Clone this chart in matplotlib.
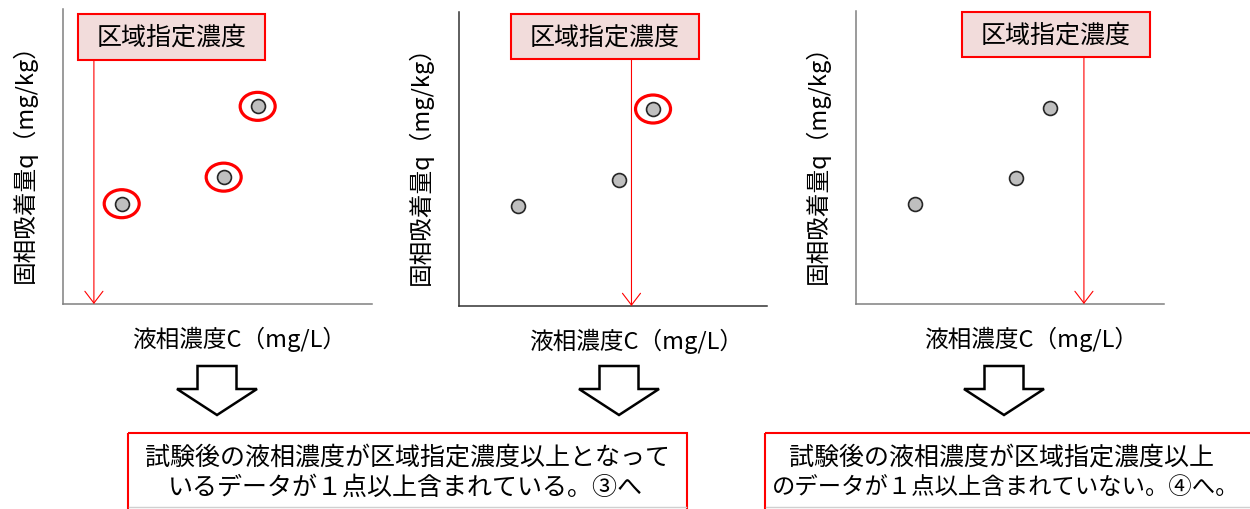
import matplotlib.pyplot as plt
import numpy as np
from matplotlib.patches import Ellipse, Rectangle, Polygon

plt.rcParams['font.family'] = ['Noto Sans CJK JP', 'DejaVu Sans']

# data (same three points in each panel, threshold differs)
conc = np.array([1.9, 5.2, 6.3])
q = np.array([3.4, 4.3, 6.7])
thresholds = [1.0, 5.6, 7.4]

ylabel = "固相吸着量q（mg/kg）"
xlabel = "液相濃度C（mg/L）"
box_label = "区域指定濃度"
result_texts = [
    ["試験後の液相濃度が区域指定濃度以上となって", "いるデータが１点以上含まれている。③へ"],
    ["試験後の液相濃度が区域指定濃度以上", "のデータが１点以上含まれていない。④へ。"],
]

W, H = 1250, 510
fig = plt.figure(figsize=(W / 100, H / 100), dpi=100)

# panel placement in pixels: left, right, top, bottom
panels = [(63, 372, 10, 305), (459, 767, 13, 307), (856, 1164, 12, 305)]
spine_cols = ['#808080', '#333333', '#808080']
boxes = [(78, 265, 15, 61), (511, 699, 15, 60), (962, 1150, 13, 58)]
xlab_x = [0.57, 0.575, 0.568]

for i, (l, r, t, b) in enumerate(panels):
    ax = fig.add_axes([l / W, 1 - b / H, (r - l) / W, (b - t) / H])
    ax.set_facecolor('none')
    ax.set_xlim(0, 10)
    ax.set_ylim(0, 10)
    ax.set_xticks([])
    ax.set_yticks([])
    for s in ['top', 'right']:
        ax.spines[s].set_visible(False)
    for s in ['left', 'bottom']:
        ax.spines[s].set_color(spine_cols[i])
        ax.spines[s].set_linewidth(1.1)

    ax.set_ylabel(ylabel, fontsize=17, labelpad=19)
    ax.set_xlabel(xlabel, fontsize=17)
    ax.xaxis.set_label_coords(xlab_x[i], -0.075)

    thr = thresholds[i]
    # red threshold arrow from the box bottom to the axis
    box_bottom = (b - boxes[i][3]) / (b - t) * 10
    ax.annotate("", xy=(thr, 0), xytext=(thr, box_bottom),
                arrowprops=dict(arrowstyle='->,head_length=0.85,head_width=0.65',
                                color='#ff0000', lw=0.8, shrinkA=0, shrinkB=0))

    ax.scatter(conc, q, s=100, facecolor='#bfbfbf', edgecolor='#262626',
               linewidth=1.2, zorder=3)

    # circle points at or above the threshold
    ew = 35 / (r - l) * 10
    eh = 28 / (b - t) * 10
    for cx, cy in zip(conc, q):
        if cx >= thr:
            ax.add_patch(Ellipse((cx, cy), ew, eh, facecolor='none',
                                 edgecolor='#ff0000', lw=2.3, zorder=4))

# overlay in pixel coordinates for boxes and block arrows
ov = fig.add_axes([0, 0, 1, 1], zorder=10)
ov.set_xlim(0, W)
ov.set_ylim(H, 0)
ov.axis('off')

for (l, r, t, b) in boxes:
    ov.add_patch(Rectangle((l, t), r - l, b - t, facecolor='#f2dcdb',
                           edgecolor='#ff0000', lw=1.5))
    ov.text((l + r) / 2, (t + b) / 2, box_label, fontsize=18,
            ha='center', va='center', color='black')

for cx in [217, 619, 1004]:
    pts = [(cx - 19.5, 367), (cx + 19.5, 367), (cx + 19.5, 390), (cx + 40, 390),
           (cx, 416), (cx - 40, 390), (cx - 19.5, 390)]
    ov.add_patch(Polygon(pts, closed=True, facecolor='white',
                         edgecolor='black', lw=1.8, joinstyle='miter'))

res_boxes = [(128, 687), (765, 1262)]
res_cx = [(407, 405), (1001, 1006)]
res_fs = [(18, 18), (18, 16.8)]
for (l, r), cxs, fss, lines in zip(res_boxes, res_cx, res_fs, result_texts):
    ov.plot([l + 1, min(r, W) - 1], [508, 508], color='#d0d0d0', lw=1)
    ov.add_patch(Rectangle((l, 434), r - l, 90, facecolor='none',
                           edgecolor='#ff0000', lw=1.5, clip_on=False))
    ov.text(cxs[0], 458, lines[0], fontsize=fss[0], ha='center', va='center')
    ov.text(cxs[1], 488, lines[1], fontsize=fss[1], ha='center', va='center')

fig.savefig('out.png', dpi=100)
